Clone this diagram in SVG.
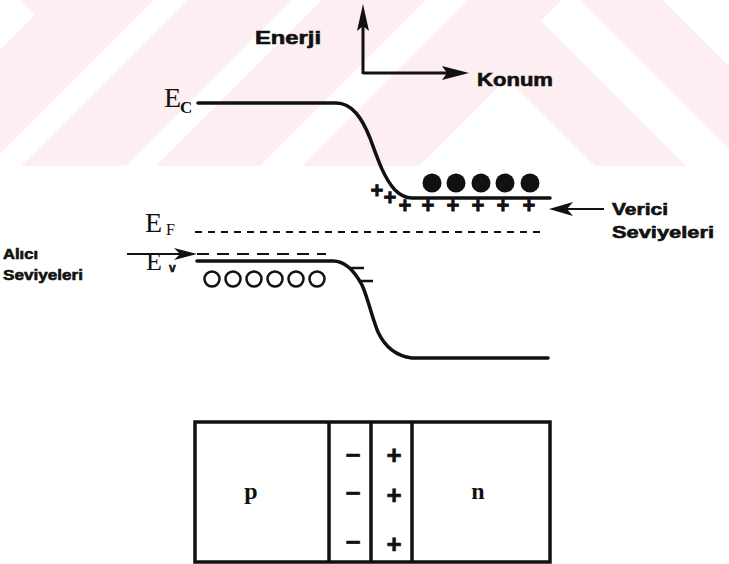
<svg xmlns="http://www.w3.org/2000/svg" width="729" height="564" viewBox="0 0 729 564">
<style>
.bg{fill:#fdeef1;stroke:none}
.band{fill:none;stroke:#111;stroke-width:3.5;stroke-linecap:round;stroke-linejoin:round}
.ax{fill:none;stroke:#111;stroke-width:3}
.dash1{fill:none;stroke:#111;stroke-width:2;stroke-dasharray:7 6}
.dash2{fill:none;stroke:#111;stroke-width:2;stroke-dasharray:12 8}
.head{fill:#111;stroke:none}
.lbl{font-family:"Liberation Sans",Arial,sans-serif;font-weight:bold;fill:#111;stroke:#111;stroke-width:0.6}
.ser{font-family:"Liberation Serif","Times New Roman",serif;fill:#111}
.chg{font-family:"Liberation Sans",Arial,sans-serif;font-weight:bold;font-size:22px;fill:#111;stroke:#111;stroke-width:0.8;text-anchor:middle}
.jn{font-family:"Liberation Sans",Arial,sans-serif;font-weight:bold;font-size:26px;fill:#111;stroke:#111;stroke-width:0.6;text-anchor:middle}
.box{fill:none;stroke:#111;stroke-width:3.5}
</style>
<rect width="729" height="564" fill="#fff"/>
<g id="watermark">
<polygon class="bg" points="20,0 154,0 0,154 0,50 35,15"/>
<polygon class="bg" points="187,0 292,0 126,166 21,166"/>
<polygon class="bg" points="322,0 426,0 260,166 156,166"/>
<polygon class="bg" points="302,166 468,0 562,0 541,21 686,166 595,166 507,78 419,166"/>
<polygon class="bg" points="580,0 663,0 729,66 729,149"/>
</g>
<g id="axes">
<path class="ax" d="M363,74 V20 M363,73 H452"/>
</g>
<g id="labels">
<text class="lbl" x="255" y="44" font-size="18" textLength="66" lengthAdjust="spacingAndGlyphs">Enerji</text>
<text class="lbl" x="477" y="86" font-size="18" textLength="76" lengthAdjust="spacingAndGlyphs">Konum</text>
<text class="lbl" x="612" y="215" font-size="16" textLength="56" lengthAdjust="spacingAndGlyphs">Verici</text>
<text class="lbl" x="612" y="238" font-size="16" textLength="102" lengthAdjust="spacingAndGlyphs">Seviyeleri</text>
<text class="lbl" x="3" y="259" font-size="14" textLength="35" lengthAdjust="spacingAndGlyphs">Alıcı</text>
<text class="lbl" x="3" y="280" font-size="15" textLength="80" lengthAdjust="spacingAndGlyphs">Seviyeleri</text>
</g>
<g id="ec-label">
<text class="ser" x="164" y="107" font-size="28">E</text>
<text class="ser" x="180" y="113" font-size="17" font-weight="bold">C</text>
</g>
<g id="ef-label">
<text class="ser" x="145" y="232" font-size="28">E</text>
<text class="ser" x="166" y="235" font-size="16">F</text>
</g>
<g id="ev-label">
<text class="ser" x="146" y="270" font-size="26">E</text>
<text class="lbl" x="169" y="272" font-size="12">v</text>
</g>
<g id="conduction-band">
<path class="band" d="M198,103 H336 C352,103 362,118 370,138 C378,160 384,178 395,190 C400,195 405,198 412,198 H550"/>
</g>
<g id="valence-band">
<path class="band" d="M197,261 H333 C345,261 355,272 362,285 C368,298 372,318 378,332 C385,347 396,356 412,358 H548"/>
</g>
<g id="fermi-level">
<path class="dash1" d="M195,232 H545"/>
</g>
<g id="acceptor-levels">
<path class="dash2" d="M197,254 H326"/>
</g>
<g id="electrons">
<circle class="head" cx="432" cy="183" r="9.5"/>
<circle class="head" cx="456" cy="183" r="9.5"/>
<circle class="head" cx="481" cy="183" r="9.5"/>
<circle class="head" cx="505" cy="183" r="9.5"/>
<circle class="head" cx="530" cy="183" r="9.5"/>
</g>
<g id="holes" fill="none" stroke="#111" stroke-width="2.5">
<circle cx="212" cy="279" r="7.5"/>
<circle cx="233" cy="279" r="7.5"/>
<circle cx="254" cy="279" r="7.5"/>
<circle cx="275" cy="279" r="7.5"/>
<circle cx="296" cy="279" r="7.5"/>
<circle cx="317" cy="279" r="7.5"/>
</g>
<g id="donor-ions">
<text class="chg" x="377" y="198">+</text>
<text class="chg" x="390" y="205">+</text>
<text class="chg" x="405" y="213">+</text>
<text class="chg" x="428" y="213">+</text>
<text class="chg" x="453" y="213">+</text>
<text class="chg" x="478" y="213">+</text>
<text class="chg" x="503" y="213">+</text>
<text class="chg" x="529" y="213">+</text>
</g>
<g id="acceptor-ions">
<path fill="none" stroke="#111" stroke-width="2.5" d="M350,268 H364 M359,281 H373"/>
</g>
<g id="connectors">
<polygon class="head" points="363,4 369,31 363,26 357,31"/>
<polygon class="head" points="469,73 442,66 447,73 442,80"/>
<path fill="none" stroke="#111" stroke-width="2" d="M604,209 H565"/>
<polygon class="head" points="549,209 573,202 567,209 573,216"/>
<path fill="none" stroke="#111" stroke-width="2" d="M127,254 H182"/>
<polygon class="head" points="197,254 174,248 180,254 174,260"/>
</g>
<g id="pn-junction">
<rect class="box" x="195" y="422" width="355" height="140"/>
<path class="box" d="M329,422 V562 M371,422 V562 M412,422 V562"/>
<text class="ser" x="251" y="499" font-size="24" font-weight="bold" text-anchor="middle">p</text>
<text class="ser" x="478" y="499" font-size="24" font-weight="bold" text-anchor="middle">n</text>
<text class="jn" x="353" y="464">−</text>
<text class="jn" x="353" y="502">−</text>
<text class="jn" x="353" y="551">−</text>
<text class="jn" x="394" y="464">+</text>
<text class="jn" x="394" y="504">+</text>
<text class="jn" x="394" y="553">+</text>
</g>
</svg>
